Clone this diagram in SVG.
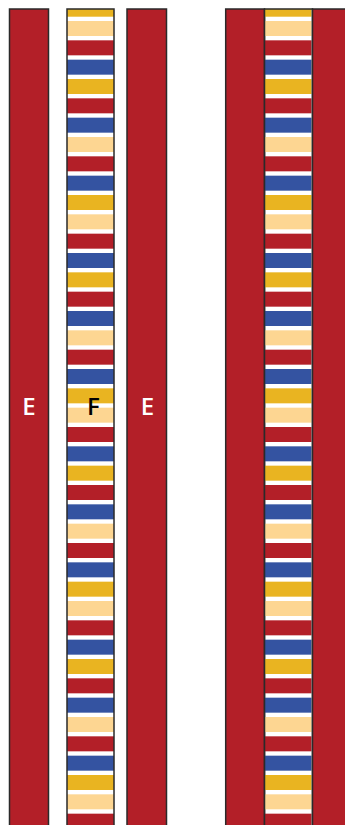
<svg xmlns="http://www.w3.org/2000/svg" xmlns:xlink="http://www.w3.org/1999/xlink" width="345" height="825" viewBox="0 0 345 825">
<style>
.r{fill:#b31f28}.b{fill:#3453a1}.y{fill:#e9b421}.p{fill:#fdd692}
.bar{fill:#b31f28;stroke:#2a2a2a;stroke-width:1.5}
.ol{fill:none;stroke:#2a2a2a;stroke-width:1.5}
.lbl{font-family:"Open Sans","Noto Sans",sans-serif;font-size:24px;font-weight:600;text-anchor:middle}
</style>
<defs>
<g id="stripes">
<rect class="y" x="0" y="9" width="47" height="7.7"/>
<rect class="p" x="0" y="21" width="47" height="15"/>
<rect class="r" x="0" y="40.33" width="47" height="15"/>
<rect class="b" x="0" y="59.67" width="47" height="15"/>
<rect class="y" x="0" y="79" width="47" height="15"/>
<rect class="r" x="0" y="98.33" width="47" height="15"/>
<rect class="b" x="0" y="117.67" width="47" height="15"/>
<rect class="p" x="0" y="137" width="47" height="15"/>
<rect class="r" x="0" y="156.33" width="47" height="15"/>
<rect class="b" x="0" y="175.67" width="47" height="15"/>
<rect class="y" x="0" y="195" width="47" height="15"/>
<rect class="p" x="0" y="214.33" width="47" height="15"/>
<rect class="r" x="0" y="233.67" width="47" height="15"/>
<rect class="b" x="0" y="253" width="47" height="15"/>
<rect class="y" x="0" y="272.33" width="47" height="15"/>
<rect class="r" x="0" y="291.67" width="47" height="15"/>
<rect class="b" x="0" y="311" width="47" height="15"/>
<rect class="p" x="0" y="330.33" width="47" height="15"/>
<rect class="r" x="0" y="349.67" width="47" height="15"/>
<rect class="b" x="0" y="369" width="47" height="15"/>
<rect class="y" x="0" y="388.33" width="47" height="15"/>
<rect class="p" x="0" y="407.67" width="47" height="15"/>
<rect class="r" x="0" y="427" width="47" height="15"/>
<rect class="b" x="0" y="446.33" width="47" height="15"/>
<rect class="y" x="0" y="465.67" width="47" height="15"/>
<rect class="r" x="0" y="485" width="47" height="15"/>
<rect class="b" x="0" y="504.33" width="47" height="15"/>
<rect class="p" x="0" y="523.67" width="47" height="15"/>
<rect class="r" x="0" y="543" width="47" height="15"/>
<rect class="b" x="0" y="562.33" width="47" height="15"/>
<rect class="y" x="0" y="581.67" width="47" height="15"/>
<rect class="p" x="0" y="601" width="47" height="15"/>
<rect class="r" x="0" y="620.33" width="47" height="15"/>
<rect class="b" x="0" y="639.67" width="47" height="15"/>
<rect class="y" x="0" y="659" width="47" height="15"/>
<rect class="r" x="0" y="678.33" width="47" height="15"/>
<rect class="b" x="0" y="697.67" width="47" height="15"/>
<rect class="p" x="0" y="717" width="47" height="15"/>
<rect class="r" x="0" y="736.33" width="47" height="15"/>
<rect class="b" x="0" y="755.67" width="47" height="15"/>
<rect class="y" x="0" y="775" width="47" height="15"/>
<rect class="p" x="0" y="794.33" width="47" height="15"/>
<rect class="r" x="0" y="813.67" width="47" height="15"/>
</g>
</defs>
<rect x="0" y="0" width="345" height="825" fill="#ffffff"/>
<g id="e-left">
<rect class="bar" x="9.5" y="9" width="39" height="830"/>
<text class="lbl" x="29" y="415" fill="#ffffff">E</text>
</g>
<g id="f-left">
<use xlink:href="#stripes" href="#stripes" transform="translate(67,0)"/>
<rect class="ol" x="67" y="9" width="47" height="830"/>
<text class="lbl" x="93.5" y="415" fill="#000000">F</text>
</g>
<g id="e-middle">
<rect class="bar" x="127" y="9" width="39.5" height="830"/>
<text class="lbl" x="147.5" y="415" fill="#ffffff">E</text>
</g>
<g id="e-right-a">
<rect class="bar" x="225.7" y="9" width="38.8" height="830"/>
</g>
<g id="f-right">
<use xlink:href="#stripes" href="#stripes" transform="translate(264.5,0)"/>
<rect class="ol" x="264.5" y="9" width="48" height="830"/>
</g>
<g id="e-right-b">
<rect class="bar" x="312.5" y="9" width="40" height="830"/>
</g>
<g id="connectors"></g>
</svg>
